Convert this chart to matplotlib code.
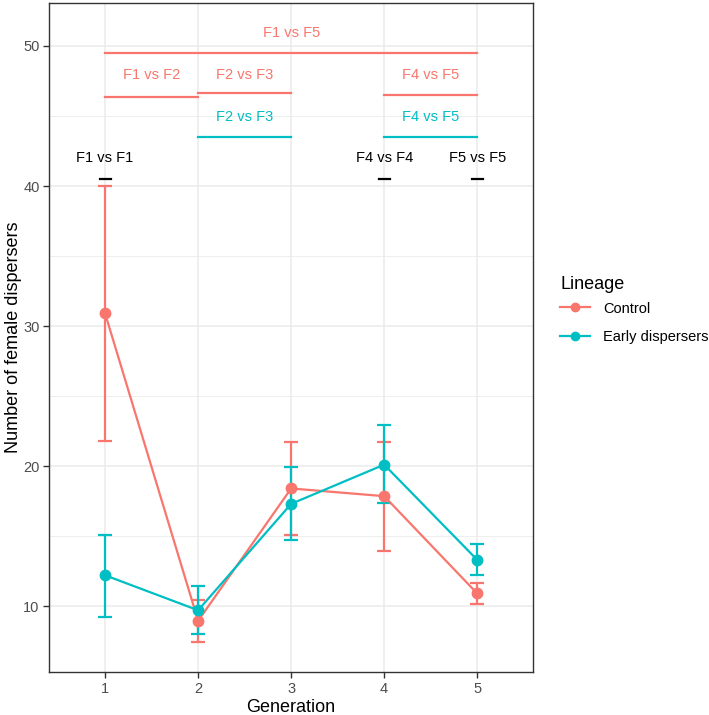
import matplotlib
matplotlib.use("Agg")
import matplotlib.pyplot as plt
from matplotlib.lines import Line2D

plt.rcParams['font.family'] = ['Liberation Sans', 'DejaVu Sans']

generations = [1, 2, 3, 4, 5]
gen_labels = ['1', '2', '3', '4', '5']

control_mean = [30.9, 8.95, 18.4, 17.85, 10.9]
control_low = [21.8, 7.45, 15.1, 13.95, 10.15]
control_high = [40.0, 10.4, 21.75, 21.75, 11.65]

early_mean = [12.2, 9.7, 17.3, 20.1, 13.3]
early_low = [9.25, 8.0, 14.7, 17.35, 12.2]
early_high = [15.1, 11.45, 19.95, 22.95, 14.45]

# comparison brackets: (label, x start, x end, line y, text y, colour)
red = '#F8766D'
cyan = '#00BFC4'
brackets = [
    ('F1 vs F5', 1, 5, 49.5, 50.95, red),
    ('F1 vs F2', 1, 2, 46.38, 47.9, red),
    ('F2 vs F3', 2, 3, 46.62, 47.9, red),
    ('F4 vs F5', 4, 5, 46.5, 47.9, red),
    ('F2 vs F3', 2, 3, 43.52, 44.95, cyan),
    ('F4 vs F5', 4, 5, 43.52, 44.95, cyan),
]
same_gen = [('F1 vs F1', 1), ('F4 vs F4', 4), ('F5 vs F5', 5)]
same_line_y = 40.5
same_text_y = 42.0

fig = plt.figure(figsize=(7.09, 7.15), dpi=100)
ax = fig.add_axes([0.0695, 0.0601, 0.6823, 0.9357])

ax.set_xlim(0.4, 5.6)
ax.set_ylim(5.29, 53.07)
ax.set_xticks(generations)
ax.set_xticklabels(gen_labels)
ax.set_yticks([10, 20, 30, 40, 50])
ax.set_yticks([15, 25, 35, 45], minor=True)

ax.grid(True, which='major', color='#EBEBEB', linewidth=1.1, zorder=0)
ax.grid(True, which='minor', axis='y', color='#EBEBEB', linewidth=0.6, zorder=0)
ax.set_axisbelow(True)
for s in ax.spines.values():
    s.set_color('#333333')
    s.set_linewidth(1.0)
ax.tick_params(which='major', length=4, width=1, color='#333333',
               labelsize=10.5, labelcolor='#4D4D4D', pad=3)
ax.tick_params(which='minor', length=0)

for mean, low, high, col in [(control_mean, control_low, control_high, red),
                             (early_mean, early_low, early_high, cyan)]:
    yerr = [[m - l for m, l in zip(mean, low)], [h - m for m, h in zip(mean, high)]]
    ax.errorbar(generations, mean, yerr=yerr, fmt='none', ecolor=col,
                elinewidth=1.6, capsize=4.7, capthick=1.6, zorder=3)
    ax.plot(generations, mean, color=col, linewidth=1.6, zorder=4)
    ax.plot(generations, mean, 'o', color=col, markersize=7.5, zorder=5)

for label, x0, x1, ly, ty, col in brackets:
    ax.plot([x0, x1], [ly, ly], color=col, linewidth=1.6, zorder=3)
    ax.text((x0 + x1) / 2, ty, label, color=col, fontsize=10.5,
            ha='center', va='center')

for label, x in same_gen:
    ax.plot([x - 0.06, x + 0.06], [same_line_y, same_line_y], color='black',
            linewidth=1.6, zorder=3)
    ax.text(x, same_text_y, label, color='black', fontsize=10.5,
            ha='center', va='center')

ax.set_xlabel('Generation', fontsize=13, labelpad=2)
ax.set_ylabel('Number of female dispersers', fontsize=13)
ax.yaxis.set_label_coords(-0.057, 0.5)

handles = [Line2D([0], [0], color=red, linewidth=1.6, marker='o', markersize=6),
           Line2D([0], [0], color=cyan, linewidth=1.6, marker='o', markersize=6)]
leg = fig.legend(handles, ['Control', 'Early dispersers'], title='Lineage',
                 loc='upper left', bbox_to_anchor=(0.772, 0.632), frameon=False,
                 fontsize=10.5, title_fontsize=13, handlelength=2.0,
                 labelspacing=1.0, handletextpad=0.9)
leg._legend_box.align = 'left'
leg._legend_box.sep = 6

fig.savefig('out.png', dpi=100)
